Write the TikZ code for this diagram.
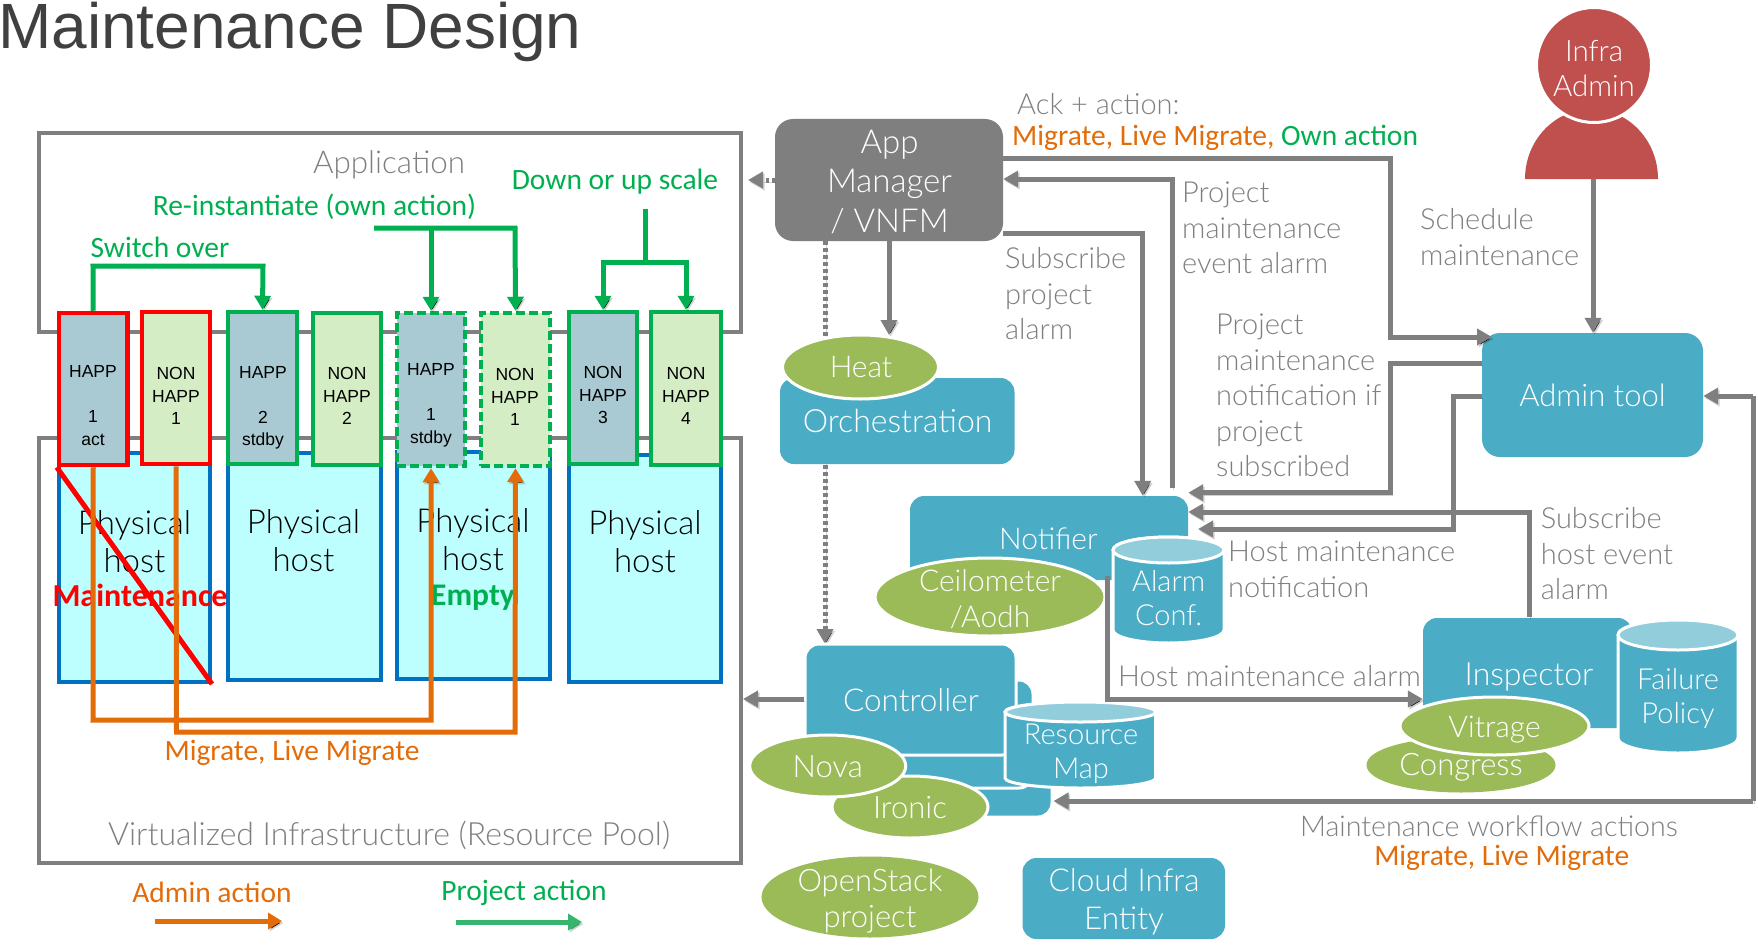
\documentclass[tikz,border=0pt]{standalone}
\usepackage{fontspec}
\usetikzlibrary{arrows.meta,shapes.geometric,calc}
\setmainfont{Liberation Sans}
\newfontfamily\lightf{Lato Light}
\newfontfamily\calf{Carlito}
\definecolor{gline}{HTML}{7F7F7F}
\definecolor{teal1}{HTML}{4BACC6}
\definecolor{teal2}{HTML}{92CDDC}
\definecolor{olive1}{HTML}{9BBB59}
\definecolor{red1}{HTML}{C0504D}
\definecolor{orng}{HTML}{E36C09}
\definecolor{grn}{HTML}{00B050}
\definecolor{grn2}{HTML}{36B56F}
\definecolor{happ}{HTML}{A9C9D3}
\definecolor{nhapp}{HTML}{D5EDC5}
\definecolor{hostf}{HTML}{BDFFFF}
\definecolor{hostb}{HTML}{0070C0}
\newcommand\fs[2]{\fontsize{#1}{#2}\selectfont}
\newcommand\mybox[7]{%
 \pgfmathsetmacro\cxx{(#2+#4)/2}\pgfmathsetmacro\cyy{(#3+#5)/2}%
 \pgfmathsetmacro\wwx{#4-#2}\pgfmathsetmacro\hhx{#5-#3}%
 \node[#6,minimum width=\wwx pt,minimum height=\hhx pt,inner sep=0pt] (#1) at (\cxx,\cyy) {#7};}
\newcommand\myell[6]{%
 \node[ellipse,fill=olive1,draw=#6,line width=3pt,inner sep=0pt,minimum width=#4 pt,minimum height=#5 pt] (#1) at (#2,#3) {};}
\newcommand\mycyl[6]{%
 \pgfmathsetmacro\rxx{(#4-#2)/2}\pgfmathsetmacro\cxx{(#2+#4)/2}\pgfmathsetmacro\cyy{(#3+#5)/2}%
 \pgfmathsetmacro\ttop{#3+#6}\pgfmathsetmacro\bbot{#5-#6}\pgfmathsetmacro\hhx{#5-#3}\pgfmathsetmacro\wwx{#4-#2}%
 \draw[white,line width=3pt,fill=teal1] (#2,\ttop) -- (#2,\bbot) arc[start angle=180,end angle=0,x radius=\rxx,y radius=#6] -- (#4,\ttop) arc[start angle=0,end angle=-180,x radius=\rxx,y radius=#6] -- cycle;
 \draw[white,line width=3pt,fill=teal2] (\cxx,\ttop) ellipse[x radius=\rxx,y radius=#6];
 \node[inner sep=0pt,minimum width=\wwx pt,minimum height=\hhx pt] (#1) at (\cxx,\cyy) {};}
\tikzset{
 x=1pt,y=-1pt,
 shad/.style={preaction={draw=black,draw opacity=.18,transform canvas={shift={(1.5pt,-2pt)}}}},
 conn/.style={draw=gline,line width=5pt,-{Triangle[length=15pt,width=16pt]},shad},
 orarr/.style={draw=orng,line width=5pt,-{Triangle[length=14pt,width=16pt]},shad},
 grarr/.style={draw=grn,line width=5pt,-{Triangle[length=14pt,width=16pt]},shad},
 frame/.style={draw=gline,line width=4pt},
 hostbox/.style={draw=hostb,line width=4pt,fill=hostf},
 vmh/.style={fill=happ},
 vmn/.style={fill=nhapp},
 redb/.style={draw=red,line width=4.5pt},
 grnb/.style={draw=grn,line width=4.5pt},
 dashb/.style={draw=grn,line width=4.5pt,dash pattern=on 9pt off 4pt},
 teal/.style={fill=teal1,rounded corners=14pt},
 txt/.style={inner sep=0pt,align=center},
 ltxt/.style={inner sep=0pt,align=left,text=gline,font=\lightf\fs{29}{35.5}},
 vmt/.style={txt,font=\fs{17.5}{22.5}},
 ph/.style={txt,font=\lightf\fs{33}{38}},
 wh/.style={txt,text=white,font=\lightf\fs{32}{38}},
 whs/.style={txt,text=white,font=\lightf\fs{29}{34}},
 wmd/.style={txt,text=white,font=\lightf\fs{31}{36}},
 gt/.style={txt,text=grn,font=\calf\fs{29.5}{34}},
 ot/.style={txt,text=orng,font=\calf\fs{29.5}{34}},
}
\begin{document}
\begin{tikzpicture}
\useasboundingbox (0,0) rectangle (1758,947);
\fill[white] (0,0) rectangle (1758,947);
\node[inner sep=0pt,anchor=base west,text=black!75,font=\fs{64}{70}] (title) at (-2,49) {Maintenance Design};
% frames
\mybox{appframe}{39}{133}{741}{332}{frame}{}
\mybox{infraframe}{39}{438}{741}{863}{frame}{}
\node[txt,text=gline,font=\lightf\fs{31.4}{38}] (appt) at (389,165) {Application};
\node[txt,text=gline,font=\lightf\fs{32}{38}] (infrat) at (389,835) {Virtualized Infrastructure (Resource Pool)};
% hosts
\mybox{h1}{59}{453}{210}{682}{hostbox}{}
\mybox{h2}{228}{453}{381}{680}{hostbox}{}
\mybox{h3}{397}{452}{550}{679}{hostbox}{}
\mybox{h4}{569}{455}{721}{682}{hostbox}{}
\node[ph] (h1t) at (134.5,542) {Physical\\host};
\node[ph] (h2t) at (303.5,541) {Physical\\host};
\node[ph] (h3t) at (473,540) {Physical\\host};
\node[ph] (h4t) at (645,542) {Physical\\host};
\node[txt,text=red,font=\calf\bfseries\fs{32}{36}] (mt) at (140,595) {Maintenance};
\node[txt,text=grn,font=\calf\bfseries\fs{31.5}{36}] (et) at (473,598) {Empty};
% VMs
\mybox{v1}{59}{313}{127.5}{465}{vmh,redb}{}
\mybox{v2}{142}{312}{210}{464}{vmn,redb}{}
\mybox{v3}{228}{312}{297}{464}{vmh,grnb}{}
\mybox{v4}{313}{313}{381}{465}{vmn,grnb}{}
\mybox{v5}{397}{313}{465}{466}{vmh,dashb}{}
\mybox{v6}{481}{313}{550}{466}{vmn,dashb}{}
\mybox{v7}{569}{312}{637}{464}{vmh,grnb}{}
\mybox{v8}{651}{312}{721}{465}{vmn,grnb}{}
\node[vmt] (v1t) at (93,405.5) {HAPP\\ \\1\\act};
\node[vmt] (v2t) at (176,396) {NON\\HAPP\\1};
\node[vmt] (v3t) at (263,408) {HAPP\\ \\2\\stdby};
\node[vmt] (v4t) at (347,396) {NON\\HAPP\\2};
\node[vmt] (v5t) at (431,405.5) {HAPP\\ \\1\\stdby};
\node[vmt] (v6t) at (515,397) {NON\\HAPP\\1};
\node[vmt] (v7t) at (603,395) {NON\\HAPP\\3};
\node[vmt] (v8t) at (686,396) {NON\\HAPP\\4};
% red diagonal and migrations
\draw[red,line width=5pt,shad] (v1.south west) -- (h1.south east);
\draw[orarr] (v1.south) -- (93,720) -- (431,720) -- (v5.south);
\draw[orarr] (v2.south) -- (176.5,732) -- (515,732) -- (v6.south);
% green actions
\draw[grarr] (v1.north) -- (93,266) -- (263,266) -- (v3.north);
\coordinate (reinst) at (374,228);
\draw[grarr] (reinst) -- (515,228) -- (v6.north);
\draw[grarr] (431,228) -- (v5.north);
\coordinate (scale) at (645,209);
\draw[grn,line width=5pt,shad] (scale) -- (645,262);
\draw[grarr] (645,262) -- (603,262) -- (v7.north);
\draw[grarr] (645,262) -- (686,262) -- (v8.north);
\node[gt] (swt) at (160,247) {Switch over};
\node[gt] (ret) at (314.5,207) {Re-instantiate (own action)};
\node[gt] (dnt) at (615,182) {Down or up scale};
\node[ot] (mlt) at (292,753) {Migrate, Live Migrate};
% legend
\node[ot] (adt) at (212,892) {Admin action};
\node[gt] (prt) at (524,893) {Project action};
\coordinate (la) at (155,921); \coordinate (lb) at (282,921);
\coordinate (lc) at (456,922); \coordinate (ld) at (582,922);
\draw[orarr] (la) -- (lb);
\draw[grarr,draw=grn2,-{Triangle[length=14pt,width=16pt,fill=grn2]}] (lc) -- (ld);
% App manager
\mybox{app}{775}{119}{1003}{241}{fill=gline,rounded corners=18pt}{}
\node[txt,text=white,font=\lightf\fs{33}{39.5}] (appmt) at (889.5,182) {App\\Manager\\/ VNFM};
\draw[conn,dash pattern=on 4pt off 3pt,line width=5pt] (825,241) -- (825,644);
\draw[conn,dashed] (app.west) -- ([xshift=5pt]appframe.east |- app.west);
\draw[conn,shorten >=0pt] (app.south) -- (889,335);
% Orchestration
\mybox{orch}{780}{378}{1014.5}{464}{teal}{}
\node[wh] (orcht) at (897.6,421) {Orchestration};
\myell{heat}{860.5}{367}{156}{64}{white}
\node[wmd,font=\lightf\fs{30}{36}] (heatt) at (861,367) {Heat};
% Notifier
\mybox{notif}{910}{496}{1188}{580}{teal}{}
\node[wmd,font=\lightf\fs{30}{36}] (notift) at (1048.4,539) {Notifier};
\myell{ceil}{990}{597}{230}{78}{white}
\node[wmd,font=\lightf\fs{30}{36}] (ceilt) at (990,599) {Ceilometer\\/Aodh};
\mycyl{alarm}{1113}{537}{1224}{643}{13}
\node[whs] (alarmt) at (1168.6,598) {Alarm\\Conf.};
% Controller
\mybox{c3}{860}{720}{1052}{817}{teal,draw=white,line width=3pt}{}
\mybox{c2}{830}{680}{1033}{788}{teal,draw=white,line width=3pt}{}
\mybox{ctrl}{805}{644}{1016}{755}{teal,draw=white,line width=3pt}{}
\node[txt,text=white,font=\lightf\fs{31.5}{38}] (ctrlt) at (911,700) {Controller};
\mycyl{resmap}{1005}{702}{1155.6}{788}{10}
\node[whs] (resmapt) at (1081,754) {Resource\\Map};
\myell{ironic}{910}{807}{156}{62}{white}
\myell{nova}{827.7}{766}{156}{62}{white}
\node[wmd] (ironict) at (910,808) {Ironic};
\node[wmd] (novat) at (827.7,767) {Nova};
% Inspector
\mybox{insp}{1423}{618}{1632}{728}{teal}{}
\node[wh] (inspt) at (1529,677) {Inspector};
\mycyl{fail}{1618}{620}{1738}{753}{15}
\node[whs] (failt) at (1678,698) {Failure\\Policy};
\myell{cong}{1461}{765}{186}{52}{olive1}
\node[wmd] (congt) at (1461,767) {Congress};
\myell{vit}{1494.5}{726}{189}{58}{white}
\node[wmd,font=\lightf\fs{30}{36}] (vitt) at (1494.5,730) {Vitrage};
% Legend shapes
\myell{osp}{870}{897}{214}{78}{olive1}
\node[wmd] (ospt) at (870,901) {OpenStack\\project};
\mybox{cloud}{1022.5}{858}{1225}{939}{teal}{}
\node[txt,text=white,font=\lightf\fs{31.5}{38}] (cloudt) at (1124,902) {Cloud Infra\\Entity};
% Admin
\mybox{admin}{1482}{333}{1703}{457}{fill=teal1,rounded corners=18pt,txt,text=white,font=\lightf\fs{31}{38}}{Admin tool}
\fill[red1] (1525,179) arc[start angle=180,end angle=360,x radius=66.5,y radius=70] -- cycle;
\coordinate (bodyb) at (1593,179);
\node[circle,fill=red1,draw=white,line width=3pt,minimum size=115pt,inner sep=0pt] (head) at (1594,65) {};
\node[txt,text=white,font=\lightf\fs{29.5}{35}] (headt) at (1594,69) {Infra\\Admin};
% Connectors
\draw[conn] (bodyb) -- (admin.north -| bodyb);
\draw[conn] (app.east |- 0,158) -- (1390.5,158) -- (1390.5,337) -- (1492,337);
\draw[conn] (1172,488) -- (1172,179) -- (app.east |- 0,179);
\draw[conn] (app.east |- 0,233) -- (1142.7,233) -- (notif.north -| 1142.7,0);
\draw[conn] (admin.west |- 0,363) -- (1390.7,363) -- (1390.7,492.7) -- (notif.east |- 0,492.7);
\draw[conn] (admin.west |- 0,396) -- (1453,396) -- (1453,529) -- (1198,529);
\draw[conn] (1529,617) -- (1529,512) -- (notif.east |- 0,512);
\draw[conn] (1107,576) -- (1107,699) -- (insp.west |- 0,699);
\draw[conn] (ctrl.west |- 0,699) -- (appframe.east |- 0,699);
\draw[conn] (1753,396) -- (admin.east |- 0,396);
\draw[conn,-] (1753,396) -- (1753,801);
\draw[conn] (1753,801) -- (c3.east |- 0,801);
% labels
\node[ltxt,anchor=west] (ackt) at (1017,104) {Ack + action:};
\node[inner sep=0pt,anchor=west,font=\calf\fs{29.5}{34}] (ownt) at (1012,137.5) {\textcolor{orng}{Migrate, Live Migrate,} \textcolor{grn}{Own action}};
\node[ltxt,anchor=north west] (pmt) at (1182,182) {Project\\maintenance\\event alarm};
\node[ltxt,anchor=north west] (spt) at (1005,247.5) {Subscribe\\project\\alarm};
\node[ltxt,anchor=north west] (pnt) at (1216,314) {Project\\maintenance\\notification if\\project\\subscribed};
\node[ltxt,anchor=north west] (sct) at (1420,208.5) {Schedule\\maintenance};
\node[ltxt,anchor=north west] (hmt) at (1228,541) {Host maintenance\\notification};
\node[ltxt,anchor=west] (hat) at (1118,676) {Host maintenance alarm};
\node[ltxt,anchor=north west] (sht) at (1540.6,507.5) {Subscribe\\host event\\alarm};
\node[ltxt,anchor=center,font=\lightf\fs{28.6}{35}] (mwt) at (1489,826) {Maintenance workflow actions};
\node[ot] (mwo) at (1501.7,858) {Migrate, Live Migrate};
\end{tikzpicture}
\end{document}
